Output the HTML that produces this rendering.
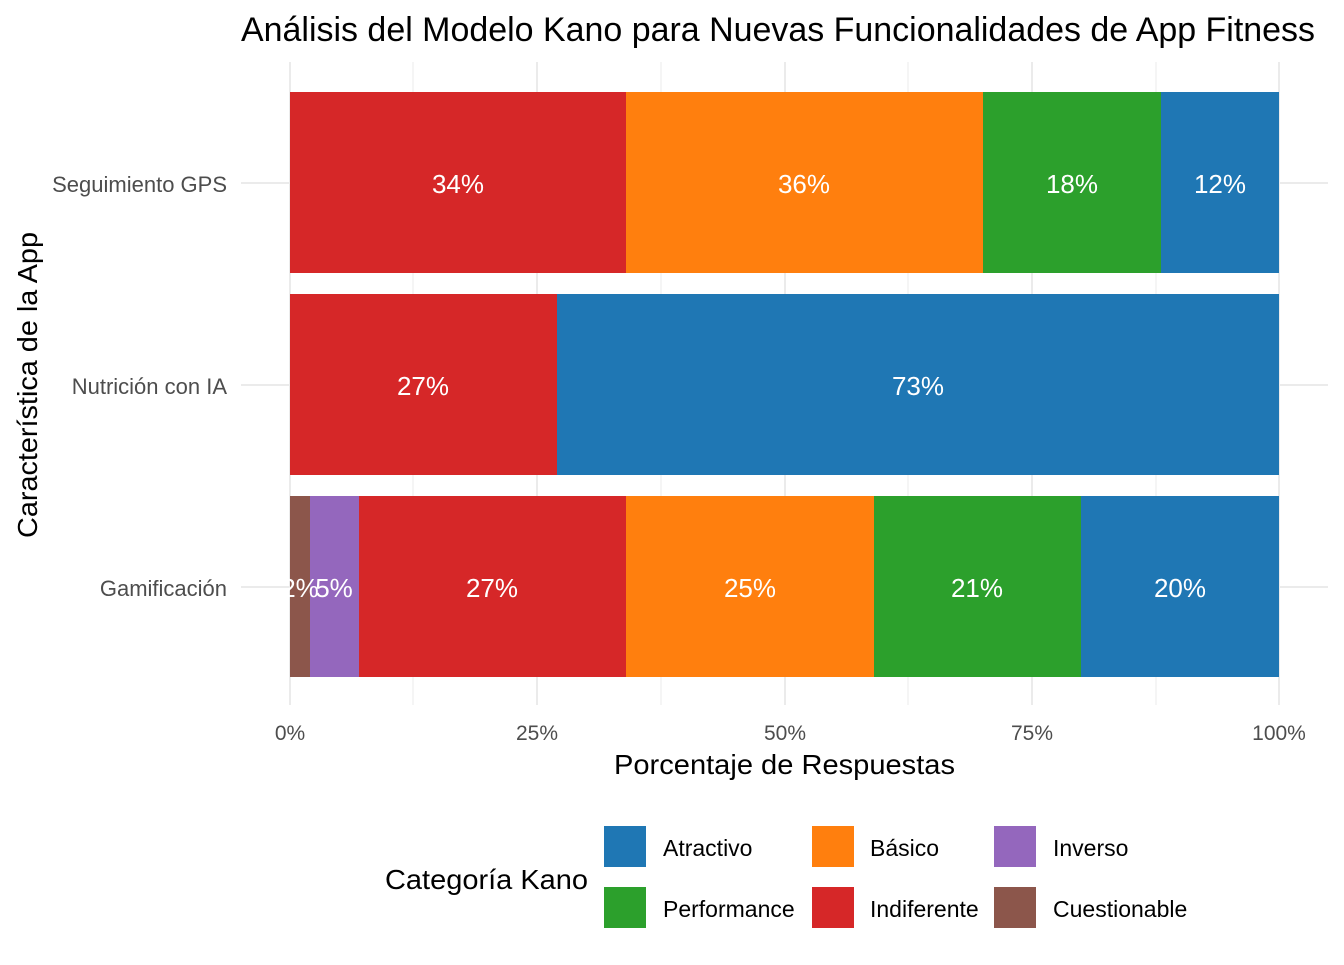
<!DOCTYPE html>
<html><head><meta charset="utf-8"><style>body{margin:0;background:#fff}</style></head><body>
<svg width="1344" height="960" xmlns="http://www.w3.org/2000/svg" font-family="Liberation Sans, sans-serif">
<rect width="1344" height="960" fill="#fff"/>
<g stroke="#ebebeb" stroke-width="1">
<line x1="413" y1="62" x2="413" y2="705"/><line x1="661" y1="62" x2="661" y2="705"/><line x1="908" y1="62" x2="908" y2="705"/><line x1="1156" y1="62" x2="1156" y2="705"/>
</g>
<g stroke="#ebebeb" stroke-width="2">
<line x1="290" y1="62" x2="290" y2="705"/><line x1="537" y1="62" x2="537" y2="705"/><line x1="785" y1="62" x2="785" y2="705"/><line x1="1032" y1="62" x2="1032" y2="705"/><line x1="1279" y1="62" x2="1279" y2="705"/>
<line x1="241" y1="183" x2="1328" y2="183"/><line x1="241" y1="385" x2="1328" y2="385"/><line x1="241" y1="587" x2="1328" y2="587"/>
</g>
<rect x="290" y="92" width="336" height="181" fill="#d62728"/>
<rect x="626" y="92" width="357" height="181" fill="#ff7f0e"/>
<rect x="983" y="92" width="178" height="181" fill="#2ca02c"/>
<rect x="1161" y="92" width="118" height="181" fill="#1f77b4"/>
<rect x="290" y="294" width="267" height="181" fill="#d62728"/>
<rect x="557" y="294" width="722" height="181" fill="#1f77b4"/>
<rect x="290" y="496" width="20" height="181" fill="#8c564b"/>
<rect x="310" y="496" width="49" height="181" fill="#9467bd"/>
<rect x="359" y="496" width="267" height="181" fill="#d62728"/>
<rect x="626" y="496" width="248" height="181" fill="#ff7f0e"/>
<rect x="874" y="496" width="207" height="181" fill="#2ca02c"/>
<rect x="1081" y="496" width="198" height="181" fill="#1f77b4"/>
<g fill="#fff" font-size="26" text-anchor="middle">
<text x="458" y="193">34%</text><text x="804" y="193">36%</text><text x="1072" y="193">18%</text><text x="1220" y="193">12%</text>
<text x="423" y="395">27%</text><text x="918" y="395">73%</text>
<text x="300" y="597">2%</text><text x="334" y="597">5%</text><text x="492" y="597">27%</text><text x="750" y="597">25%</text><text x="977" y="597">21%</text><text x="1180" y="597">20%</text>
</g>
<g fill="#4d4d4d" font-size="22" text-anchor="end">
<text x="227" y="192">Seguimiento GPS</text><text x="227" y="394">Nutrición con IA</text><text x="227" y="596">Gamificación</text>
</g>
<g fill="#4d4d4d" font-size="21" text-anchor="middle">
<text x="290" y="740">0%</text><text x="537" y="740">25%</text><text x="785" y="740">50%</text><text x="1032" y="740">75%</text><text x="1279" y="740">100%</text>
</g>
<text x="614" y="774" font-size="28" textLength="341" lengthAdjust="spacingAndGlyphs" fill="#000">Porcentaje de Respuestas</text>
<text transform="translate(37,538) rotate(-90)" font-size="28" textLength="306" lengthAdjust="spacingAndGlyphs" fill="#000">Característica de la App</text>
<text x="241" y="41" font-size="34" textLength="1074" lengthAdjust="spacingAndGlyphs" fill="#000">Análisis del Modelo Kano para Nuevas Funcionalidades de App Fitness</text>
<text x="385" y="889" font-size="28" textLength="203" lengthAdjust="spacingAndGlyphs" fill="#000">Categoría Kano</text>
<rect x="604" y="826" width="42" height="41" fill="#1f77b4"/>
<rect x="604" y="887" width="42" height="41" fill="#2ca02c"/>
<rect x="812" y="826" width="42" height="41" fill="#ff7f0e"/>
<rect x="812" y="887" width="42" height="41" fill="#d62728"/>
<rect x="994" y="826" width="42" height="41" fill="#9467bd"/>
<rect x="994" y="887" width="42" height="41" fill="#8c564b"/>
<g font-size="23" fill="#000">
<text x="663" y="856">Atractivo</text><text x="663" y="917">Performance</text>
<text x="870" y="856">Básico</text><text x="870" y="917">Indiferente</text>
<text x="1053" y="856">Inverso</text><text x="1053" y="917">Cuestionable</text>
</g>
</svg>
</body></html>
